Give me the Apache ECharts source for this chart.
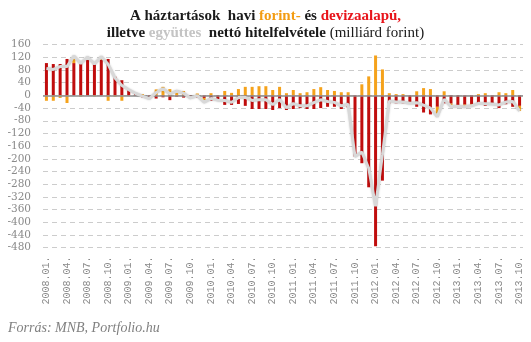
<!DOCTYPE html>
<html>
<head>
<meta charset="utf-8">
<script src="https://cdn.jsdelivr.net/npm/echarts@6/dist/echarts.min.js"></script>
<style>
  html, body { margin: 0; padding: 0; background: #fff; }
  #chart { width: 531px; height: 342px; }
</style>
</head>
<body>
<div id="chart"></div>
<script>
// Months 2008.01 – 2013.10
const months = [];
for (let y = 2008; y <= 2013; y++) {
  for (let m = 1; m <= 12; m++) {
    if (y === 2013 && m > 10) break;
    months.push(y + '.' + String(m).padStart(2, '0') + '.');
  }
}

// Deviza-based net borrowing (billion HUF)
const deviza = [
  102, 99, 99, 115, 102, 105, 118, 102, 113, 115, 59, 48,
  18, 6, -6, -6, -10, -6, -15, -4, -7, -8, -7, -8,
  -17, -15, -30, -30, -27, -33, -43, -43, -43, -46, -40, -46,
  -43, -40, -43, -43, -40, -36, -36, -43, -38, -193, -214, -290,
  -476, -269, -25, -25, -25, -25, -36, -54, -60, -36, -25, -26,
  -34, -29, -27, -29, -33, -27, -40, -28, -36, -33
];

// Forint-based net borrowing (billion HUF)
const forint = [
  -17, -17, -8, -24, 22, -4, 3, -3, 9, -17, -4, -17,
  0, 0, 4, -4, 19, 27, 20, 17, 14, 0, 6, -13,
  7, 0, 14, 8, 20, 27, 27, 29, 29, 17, 27, 7,
  17, 7, 10, 20, 26, 17, 14, 10, 10, 0, 35, 60,
  126, 82, 7, 4, 4, 0, 13, 23, 20, -31, 13, -9,
  0, -7, -6, 4, 7, 0, 10, 7, 17, -16
];

// Combined net borrowing (billion HUF)
const egyuttes = [
  85, 82, 91, 91, 124, 101, 121, 99, 122, 98, 55, 31,
  18, 6, -2, -10, 9, 21, 5, 13, 7, -8, -1, -21,
  -10, -15, -16, -22, -7, -6, -16, -14, -14, -29, -13, -39,
  -26, -33, -33, -23, -14, -19, -22, -33, -28, -193, -179, -230,
  -350, -187, -18, -21, -21, -25, -23, -31, -40, -67, -12, -35,
  -34, -36, -33, -25, -26, -27, -30, -21, -19, -49
];

const yTicks = { min: -480, max: 160, step: 40 };

const chart = echarts.init(document.getElementById('chart'), null, { renderer: 'canvas' });

const titleFont = { fontFamily: 'Liberation Serif', fontSize: 15, lineHeight: 17 };

chart.setOption({
  animation: false,
  backgroundColor: '#ffffff',
  title: {
    left: 'center',
    top: 3,
    text: '{b|A háztartások  havi }{o|forint-}{b| és }{r|devizaalapú,}\n{b|illetve }{g|együttes}{b|  nettó hitelfelvétele }{n|(milliárd forint)}',
    textStyle: {
      lineHeight: 17,
      rich: {
        b: Object.assign({ fontWeight: 'bold', color: '#1a1a1a' }, titleFont),
        o: Object.assign({ fontWeight: 'bold', color: '#f39c12' }, titleFont),
        r: Object.assign({ fontWeight: 'bold', color: '#e8141b' }, titleFont),
        g: Object.assign({ fontWeight: 'bold', color: '#c4c4c4' }, titleFont),
        n: Object.assign({ fontWeight: 'normal', color: '#1a1a1a' }, titleFont)
      }
    }
  },
  graphic: [{
    type: 'text',
    left: 8,
    top: 321,
    style: {
      text: 'Forrás: MNB, Portfolio.hu',
      font: 'italic 14px "Liberation Serif"',
      fill: '#808080'
    }
  }],
  grid: { left: 43, right: 8, top: 44.7, bottom: 94.5 },
  xAxis: {
    type: 'category',
    data: months,
    boundaryGap: true,
    axisLine: { show: false, onZero: false },
    axisTick: { show: false },
    axisLabel: {
      interval: 2,
      rotate: 90,
      margin: 9,
      fontFamily: 'Liberation Mono',
      fontSize: 10,
      color: '#8a8a8a'
    },
    splitLine: { show: false }
  },
  yAxis: {
    type: 'value',
    min: yTicks.min,
    max: yTicks.max,
    interval: yTicks.step,
    axisLine: { show: false },
    axisTick: { show: false },
    axisLabel: {
      margin: 12,
      fontFamily: 'DejaVu Serif',
      fontSize: 10.5,
      color: '#8a8a8a'
    },
    splitLine: { lineStyle: { color: '#cccccc', type: [5, 4], width: 1 } }
  },
  series: [
    {
      name: 'deviza',
      type: 'bar',
      stack: 'total',
      barWidth: 3,
      itemStyle: { color: '#c00d0d' },
      data: deviza,
      markLine: {
        silent: true,
        symbol: 'none',
        label: { show: false },
        lineStyle: { color: '#8c8c8c', type: 'solid', width: 1.5 },
        data: [{ yAxis: 0 }]
      }
    },
    {
      name: 'forint',
      type: 'bar',
      stack: 'total',
      barWidth: 3,
      itemStyle: { color: '#f5a21b' },
      data: forint
    },
    {
      name: 'együttes',
      type: 'line',
      symbol: 'none',
      z: 5,
      lineStyle: {
        color: '#d8d8d8',
        width: 3,
        shadowColor: 'rgba(0,0,0,0.2)',
        shadowBlur: 2
      },
      data: egyuttes
    }
  ]
});
</script>
</body>
</html>
